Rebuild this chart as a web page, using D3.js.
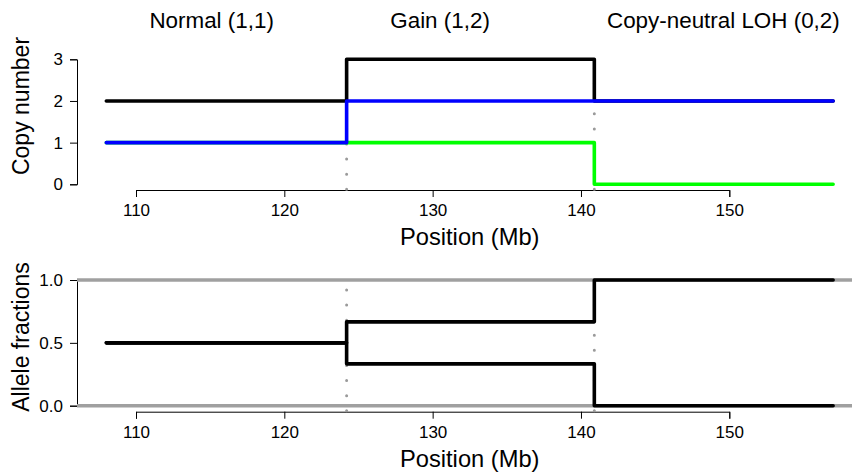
<!DOCTYPE html>
<html>
<head>
<meta charset="utf-8">
<script src="https://cdn.jsdelivr.net/npm/d3@7"></script>
<style>
  html, body { margin: 0; padding: 0; background: #fff; }
  svg { display: block; }
  text { font-family: "Liberation Sans", Arial, Helvetica, sans-serif; fill: #000; }
</style>
</head>
<body>
<svg id="chart" width="852" height="474"></svg>
<script>
// ---------------- data ----------------
const breakpoints = [108, 124.2, 140.9, 157];          // segment boundaries (Mb)
const regionNames = ["Normal (1,1)", "Gain (1,2)", "Copy-neutral LOH (0,2)"];
const regionLabelPos = [115.1, 130.5, 149.6];           // label centres (Mb)
const totalCN = [2, 3, 2];
const minorCN = [1, 1, 0];
const majorCN = [1, 2, 2];
const bafUpper = [0.5, 0.667, 1];
const bafLower = [0.5, 0.333, 0];
const xTicks = [110, 120, 130, 140, 150];
const cnTicks = [0, 1, 2, 3];
const bafTicks = [0, 0.5, 1];
const bafTickLabels = ["0.0", "0.5", "1.0"];
const dividers = [124.2, 140.9];

// ---------------- layout ----------------
const W = 852, H = 474;
const svg = d3.select("#chart");
const x = d3.scaleLinear().domain([110, 150]).range([136, 729.3]);
const plotLeft = 77;
const xlabCentre = 132.5;

const yTop = d3.scaleLinear().domain([0, 3]).range([184.3, 59.3]);
const yBot = d3.scaleLinear().domain([0, 1]).range([405.7, 280]);

function stepPoints(vals) {
  const pts = vals.map((v, i) => [breakpoints[i], v]);
  pts.push([breakpoints[breakpoints.length - 1], vals[vals.length - 1]]);
  return pts;
}

function drawPanel(g, y, opts) {
  const [y0, y1] = y.domain();
  const pad = (y1 - y0) * 0.04;
  const plotBottom = y(y0 - pad), plotTop = y(y1 + pad);

  // x axis
  const xAxisY = opts.xAxisY;
  const xa = g.append("g").attr("transform", `translate(0,${xAxisY})`)
    .call(d3.axisBottom(x).tickValues(xTicks).tickSize(7).tickPadding(7).tickFormat(d3.format("d")));
  xa.select(".domain").attr("stroke", "#000").attr("stroke-width", 1);
  xa.selectAll(".tick line").attr("stroke", "#000");
  xa.selectAll("text").attr("font-size", 17).attr("font-family", "Liberation Sans, Arial, sans-serif");
  g.append("text").attr("x", x(xlabCentre)).attr("y", xAxisY + 55)
    .attr("text-anchor", "middle").attr("font-size", 23.7).text("Position (Mb)");

  // y axis
  const ya = g.append("g").attr("transform", `translate(${plotLeft},0)`)
    .call(d3.axisLeft(y).tickValues(opts.ticks).tickSize(7).tickPadding(7)
      .tickFormat((d, i) => opts.tickLabels ? opts.tickLabels[i] : d));
  ya.select(".domain").attr("stroke", "#000").attr("stroke-width", 1);
  ya.selectAll(".tick line").attr("stroke", "#000");
  ya.selectAll("text").attr("font-size", 17).attr("font-family", "Liberation Sans, Arial, sans-serif");
  g.append("text").attr("transform", `translate(29,${opts.ylabY}) rotate(-90)`)
    .attr("text-anchor", "middle").attr("font-size", 23).text(opts.ylab);

  // reference horizontal lines
  (opts.hlines || []).forEach(h => {
    g.append("line").attr("x1", plotLeft).attr("x2", W)
      .attr("y1", y(h)).attr("y2", y(h))
      .attr("stroke", "#a0a0a0").attr("stroke-width", 3.5);
  });

  // dotted dividers
  dividers.forEach(b => {
    g.append("line").attr("x1", x(b)).attr("x2", x(b))
      .attr("y1", plotBottom).attr("y2", plotTop)
      .attr("stroke", "#9a9a9a").attr("stroke-width", 3)
      .attr("stroke-linecap", "round").attr("stroke-dasharray", "0 15.1");
  });

  const line = d3.line().x(d => x(d[0])).y(d => y(d[1])).curve(d3.curveStepAfter);
  opts.series.forEach(s => {
    g.append("path").datum(stepPoints(s.values)).attr("d", line)
      .attr("fill", "none").attr("stroke", s.color).attr("stroke-width", 3.6)
      .attr("stroke-linecap", "round").attr("stroke-linejoin", "round");
  });
}

const gTop = svg.append("g");
drawPanel(gTop, yTop, {
  xAxisY: 190, ticks: cnTicks, ylab: "Copy number", ylabY: 106,
  series: [
    { values: totalCN, color: "#000000" },
    { values: minorCN, color: "#00ff00" },
    { values: majorCN, color: "#0000ff" }
  ]
});

const gBot = svg.append("g");
drawPanel(gBot, yBot, {
  xAxisY: 411.7, ticks: bafTicks, tickLabels: bafTickLabels, ylab: "Allele fractions", ylabY: 337,
  hlines: [0, 1],
  series: [
    { values: bafUpper, color: "#000000" },
    { values: bafLower, color: "#000000" }
  ]
});

// region labels
svg.append("g").selectAll("text").data(regionNames).join("text")
  .attr("x", (d, i) => x(regionLabelPos[i])).attr("y", 28)
  .attr("text-anchor", "middle").attr("font-size", 22.4).text(d => d);
</script>
</body>
</html>
